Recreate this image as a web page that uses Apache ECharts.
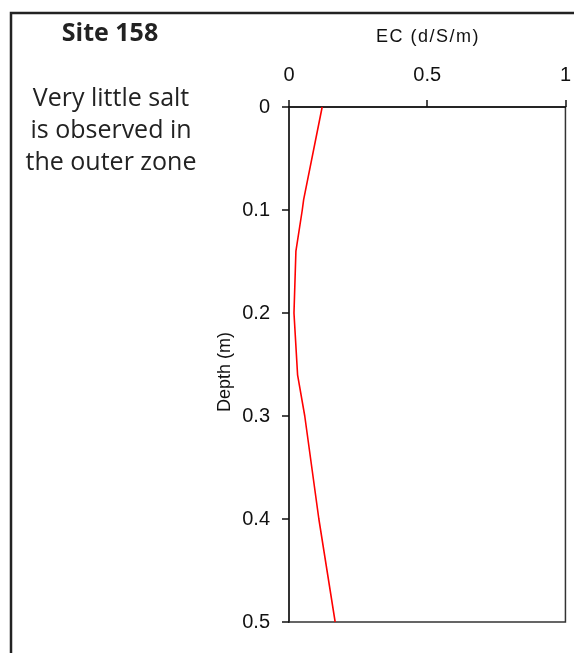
<!DOCTYPE html>
<html>
<head>
<meta charset="utf-8">
<script src="https://cdn.jsdelivr.net/npm/echarts@6/dist/echarts.min.js"></script>
<style>
  html, body { margin: 0; padding: 0; background: #fff; }
  #chart { width: 574px; height: 653px; }
</style>
</head>
<body>
<div id="chart"></div>
<script>
// Electrical conductivity profile with depth
const depth = [0, 0.09, 0.1, 0.14, 0.2, 0.26, 0.3, 0.4, 0.5];
const ecValues = [0.12, 0.053, 0.048, 0.025, 0.018, 0.031, 0.057, 0.108, 0.167];
const ecTicks = ['0', '0.5', '1'];
const depthTicks = ['0', '0.1', '0.2', '0.3', '0.4', '0.5'];
const siteTitle = 'Site 158';
const noteLines = ['Very little salt', 'is observed in', 'the outer zone'];
const ecName = 'EC (d/S/m)';

// spread the axis title letters with hair spaces
const spaced = (s) => s.split('').join('\u200A');

const chart = echarts.init(document.getElementById('chart'), null, { renderer: 'canvas' });

const tickFont = { fontFamily: 'Liberation Sans', fontSize: 20, color: '#111' };

chart.setOption({
  animation: false,
  backgroundColor: '#fff',
  grid: {
    left: 289, top: 107, right: 7, bottom: 31,
    show: true, borderColor: '#333', borderWidth: 1.5
  },
  xAxis: {
    type: 'value', position: 'top',
    min: 0, max: 1, interval: 0.5,
    axisLine: { show: true, onZero: false, lineStyle: { color: '#111', width: 1.5 } },
    axisTick: { show: true, length: 7, lineStyle: { color: '#111', width: 1.5 } },
    splitLine: { show: false },
    axisLabel: {
      margin: 22, ...tickFont,
      formatter: (v) => ecTicks[Math.round(v / 0.5)]
    },
    name: spaced(ecName),
    nameLocation: 'middle',
    nameGap: 61,
    nameTextStyle: { fontFamily: 'Liberation Sans', fontSize: 18, color: '#111' }
  },
  yAxis: {
    type: 'value', inverse: true,
    min: 0, max: 0.5, interval: 0.1,
    axisLine: { show: true, onZero: false, lineStyle: { color: '#333', width: 2 } },
    axisTick: { show: true, length: 7, lineStyle: { color: '#111', width: 1.5 } },
    splitLine: { show: false },
    axisLabel: {
      margin: 19, ...tickFont,
      formatter: (v) => depthTicks[Math.round(v / 0.1)]
    }
  },
  series: [{
    type: 'line',
    data: depth.map((d, i) => [ecValues[i], d]),
    showSymbol: false,
    smooth: false,
    lineStyle: { color: '#ff0000', width: 1.6 },
    z: 3
  }],
  graphic: [
    {
      type: 'rect', silent: true,
      shape: { x: 11, y: 13, width: 700, height: 800 },
      style: { fill: 'none', stroke: '#222', lineWidth: 2.5 }
    },
    {
      type: 'text', x: 110, y: 34,
      style: {
        text: siteTitle, fontFamily: 'Open Sans', fontWeight: 'bold', fontSize: 25,
        fill: '#222', textAlign: 'center', textVerticalAlign: 'middle'
      }
    },
    {
      type: 'text', x: 111, y: 131,
      style: {
        text: noteLines.join('\n'), fontFamily: 'Open Sans', fontSize: 25,
        lineHeight: 32, fill: '#222', textAlign: 'center', textVerticalAlign: 'middle'
      }
    },
    {
      type: 'text', x: 225, y: 372, rotation: Math.PI / 2,
      style: {
        text: 'Depth (m)', fontFamily: 'Liberation Sans', fontSize: 18,
        fill: '#111', textAlign: 'center', textVerticalAlign: 'middle'
      }
    }
  ]
});
</script>
</body>
</html>
